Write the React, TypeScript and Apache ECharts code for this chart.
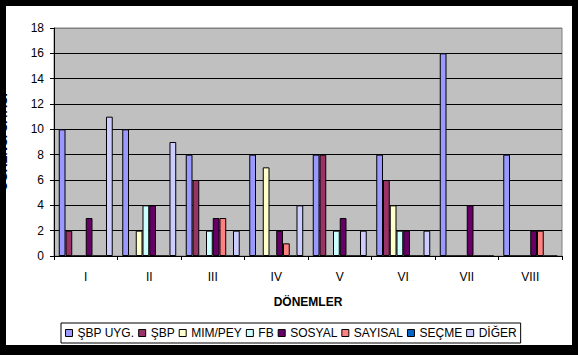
import React, { useEffect, useRef } from "react";
import * as echarts from "echarts";

const categories = ["I", "II", "III", "IV", "V", "VI", "VII", "VIII"];
const seriesNames = ["ŞBP UYG.", "ŞBP", "MIM/PEY", "FB", "SOSYAL", "SAYISAL", "SEÇME", "DİĞER"];
const sbpUyg = [10, 10, 8, 8, 8, 8, 16, 8];
const sbp = [2, 0, 6, 0, 8, 6, 0, 0];
const mimPey = [0, 2, 0, 7, 0, 4, 0, 0];
const fb = [0, 4, 2, 0, 2, 2, 0, 0];
const sosyal = [3, 4, 3, 2, 3, 2, 4, 2];
const sayisal = [0, 0, 3, 1, 0, 0, 0, 2];
const secme = [0, 0, 0, 0, 0, 0, 0, 0];
const diger = [11, 9, 2, 4, 2, 2, 0, 0];
const colors = ["#9999FF", "#993366", "#FFFFCC", "#CCFFFF", "#660066", "#FF8080", "#0066CC", "#CCCCFF"];

export default function App() {
  const ref = useRef<HTMLDivElement>(null);
  useEffect(() => {
    if (!ref.current) return;
    const chart = echarts.init(ref.current, undefined, { renderer: "svg" });
    const allData = [sbpUyg, sbp, mimPey, fb, sosyal, sayisal, secme, diger];
    const font = "'Liberation Sans', Arial, sans-serif";
    const splitColors = ["#000", "#000", "#000", "#000", "#000", "#000", "#000", "#000", "#000", "#808080"];
    chart.setOption({
      animation: false,
      backgroundColor: "#ffffff",
      textStyle: { fontFamily: font },
      grid: {
        left: 48,
        top: 22,
        right: 10,
        bottom: 89,
        containLabel: false,
        outerBoundsMode: "none",
        show: true,
        backgroundColor: "#C0C0C0",
        borderColor: "#808080",
        borderWidth: 1,
      },
      legend: {
        data: seriesNames,
        left: 55,
        top: 317,
        orient: "horizontal",
        icon: "rect",
        itemWidth: 7,
        itemHeight: 7,
        itemGap: 4,
        padding: [4, 4],
        borderColor: "#000",
        borderWidth: 1,
        textStyle: { fontFamily: font, fontSize: 12, color: "#000" },
        itemStyle: { borderColor: "#000", borderWidth: 1 },
      },
      xAxis: {
        type: "category",
        data: categories,
        name: "DÖNEMLER",
        nameLocation: "middle",
        nameGap: 40,
        nameTextStyle: { fontFamily: font, fontSize: 12, fontWeight: "bold", color: "#000" },
        axisLine: { lineStyle: { color: "#000", width: 1 } },
        axisTick: { show: true, length: 4, lineStyle: { color: "#000" } },
        axisLabel: { fontFamily: font, fontSize: 12, color: "#000", margin: 15 },
      },
      yAxis: {
        type: "value",
        min: 0,
        max: 18,
        interval: 2,
        name: "ÖĞRENCİ SAYISI",
        nameLocation: "middle",
        nameGap: 45,
        nameTextStyle: { fontFamily: font, fontSize: 12, fontWeight: "bold", color: "#000" },
        axisLine: { show: true, lineStyle: { color: "#000", width: 1 } },
        axisTick: { show: true, length: 4, lineStyle: { color: "#000" } },
        axisLabel: { fontFamily: font, fontSize: 12, color: "#000", margin: 10 },
        splitLine: { show: true, lineStyle: { color: splitColors, width: 1 } },
      },
      series: seriesNames.map((name, i) => ({
        name,
        type: "bar",
        data: allData[i],
        barGap: "0%",
        barCategoryGap: "15%",
        itemStyle: { color: colors[i], borderColor: "#000", borderWidth: 1 },
      })),
    });
    return () => chart.dispose();
  }, []);
  return (
    <div style={{ position: "fixed", left: 0, top: 0, width: 578, height: 355, background: "#000" }}>
      <div
        ref={ref}
        style={{ position: "absolute", left: 6, top: 6, width: 566, height: 339, overflow: "hidden" }}
      />
    </div>
  );
}
